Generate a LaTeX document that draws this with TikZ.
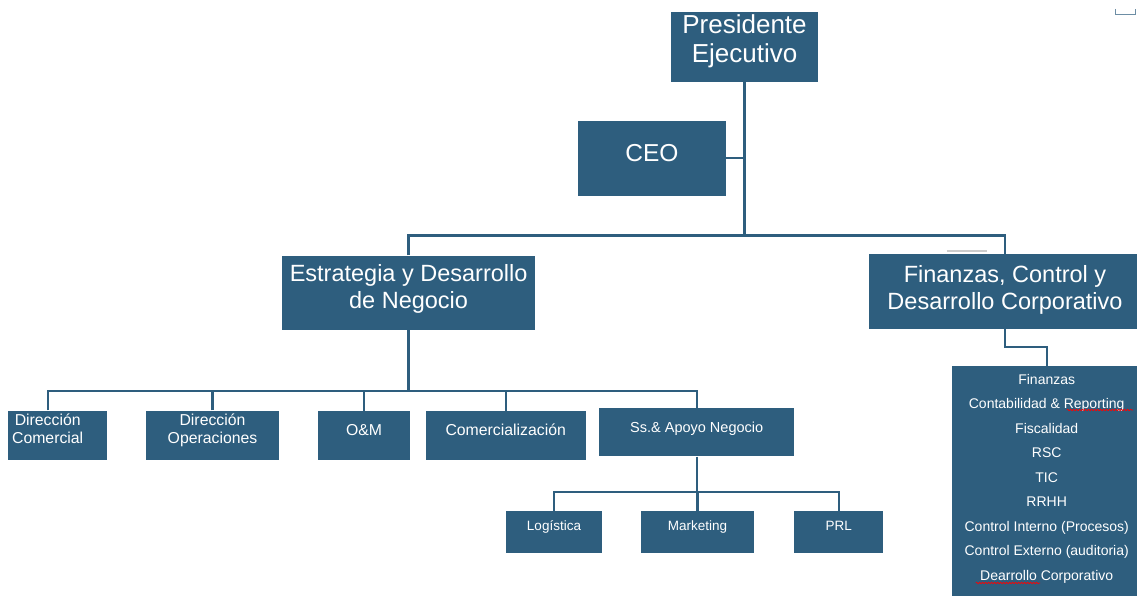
\documentclass[tikz,border=0pt]{standalone}
\usepackage{fontspec}
\setmainfont{Liberation Sans}
\usetikzlibrary{decorations.pathmorphing}
\definecolor{orgblue}{RGB}{46,94,126}

\begin{document}
\begin{tikzpicture}[x=1pt,y=-1pt]
\tikzstyle{every node}+=[inner sep=0pt, text=white, fill=orgblue, align=center]
\tikzstyle{link}=[draw=orgblue, line width=2.4pt]
\tikzstyle{topbox}=[font=\fontsize{23.5}{27}\selectfont, minimum height=74.5pt]
\tikzstyle{unitbox}=[font=\fontsize{15.8}{17.6}\selectfont, minimum height=49.5pt]
\tikzstyle{subbox}=[font=\fontsize{13.5}{16}\selectfont, minimum height=42pt, text depth=11.4pt]
\tikzstyle{squiggle}=[draw=red, line width=0.6pt, decorate, decoration={snake, amplitude=0.8pt, segment length=3pt}]
\useasboundingbox (0,0) rectangle (1137,596);

% top of the chart
\node[minimum width=147pt, minimum height=70pt, font=\fontsize{26}{29.4}\selectfont] (pres) at (744.5,47) {Presidente\\Ejecutivo\rule[-16.5pt]{0pt}{0pt}};
\node[minimum width=147.5pt, minimum height=74.7pt, font=\fontsize{24.5}{28}\selectfont, text depth=11pt] (ceo) at (652,158.3) {CEO};

% the two areas
\node[topbox, minimum width=252.7pt] (estr) at (408.6,292.9) {Estrategia y Desarrollo\\de Negocio\rule[-12.7pt]{0pt}{0pt}};
\node[topbox, minimum width=272pt] (fin) at (1005,291.7) {Finanzas, Control y\\Desarrollo Corporativo\rule[-8.5pt]{0pt}{0pt}};

% units under Estrategia
\node[unitbox, minimum width=99pt] (dcom) at (57.5,435.3) {Dirección\hspace*{19.6pt}\\Comercial\hspace*{19.6pt}\rule[-13pt]{0pt}{0pt}};
\node[unitbox, minimum width=133pt] (dops) at (212.5,435.3) {Dirección\\Operaciones\rule[-13pt]{0pt}{0pt}};
\node[unitbox, minimum width=92.6pt, text depth=11.7pt] (om) at (364,435.5) {O\&M};
\node[unitbox, minimum width=160pt, text depth=11.7pt] (comer) at (505.7,435.5) {Comercialización};
\node[unitbox, font=\fontsize{14.5}{17}\selectfont, minimum width=195.3pt, minimum height=48pt, text depth=9.6pt] (apoyo) at (696.7,432.3) {Ss.\& Apoyo Negocio};

% under Ss.& Apoyo
\node[subbox, minimum width=96.6pt] (logi) at (554,531.7) {Logística};
\node[subbox, minimum width=113.6pt] (mkt) at (697.5,531.7) {Marketing};
\node[subbox, minimum width=89.3pt] (prl) at (838.7,531.7) {PRL};

% list under Finanzas
\node[anchor=north, minimum width=190pt, inner ysep=8.4pt, font=\fontsize{14}{24.5}\selectfont] (finlist) at (1046.7,365.7) {Finanzas\\Contabilidad \& Reporting\\Fiscalidad\\RSC\\TIC\\RRHH\\Control Interno (Procesos)\\Control Externo (auditoria)\\Dearrollo Corporativo\rule[-16pt]{0pt}{0pt}};

\coordinate (topbus) at (744.5,235.5);
\coordinate (estrbus) at (408.6,391);
\coordinate (apoyobus) at (696.7,491.7);
\coordinate (finbus) at (1005,346.7);

\draw[link] (pres.south) -- (topbus);
\draw[link] (ceo.east) -- (ceo.east -| topbus);
\draw[link] (estr.north) |- (topbus) -| (fin.north);
\draw[link] (estr.south) -- (estrbus);
\draw[link] ([xshift=-9.8pt]dcom.north) |- (estrbus);
\foreach \n in {dops,om,comer,apoyo} \draw[link] (\n.north) |- (estrbus);
\draw[link] (apoyo.south) -- (apoyobus);
\foreach \n in {logi,mkt,prl} \draw[link] (\n.north) |- (apoyobus);
\draw[link] (fin.south) -- (finbus) -| (finlist.north);

% spell marks and stray marks
\draw[squiggle] (1066.7,410) -- (1133,410);
\draw[squiggle] (975.7,583) -- (1040,583);
\draw[gray!40, line width=1.5pt] (946.7,251) -- (986.7,251);
\draw[orgblue!70, line width=1pt] (1115,9) |- (1135,15) -- (1135,9);
\end{tikzpicture}
\end{document}
